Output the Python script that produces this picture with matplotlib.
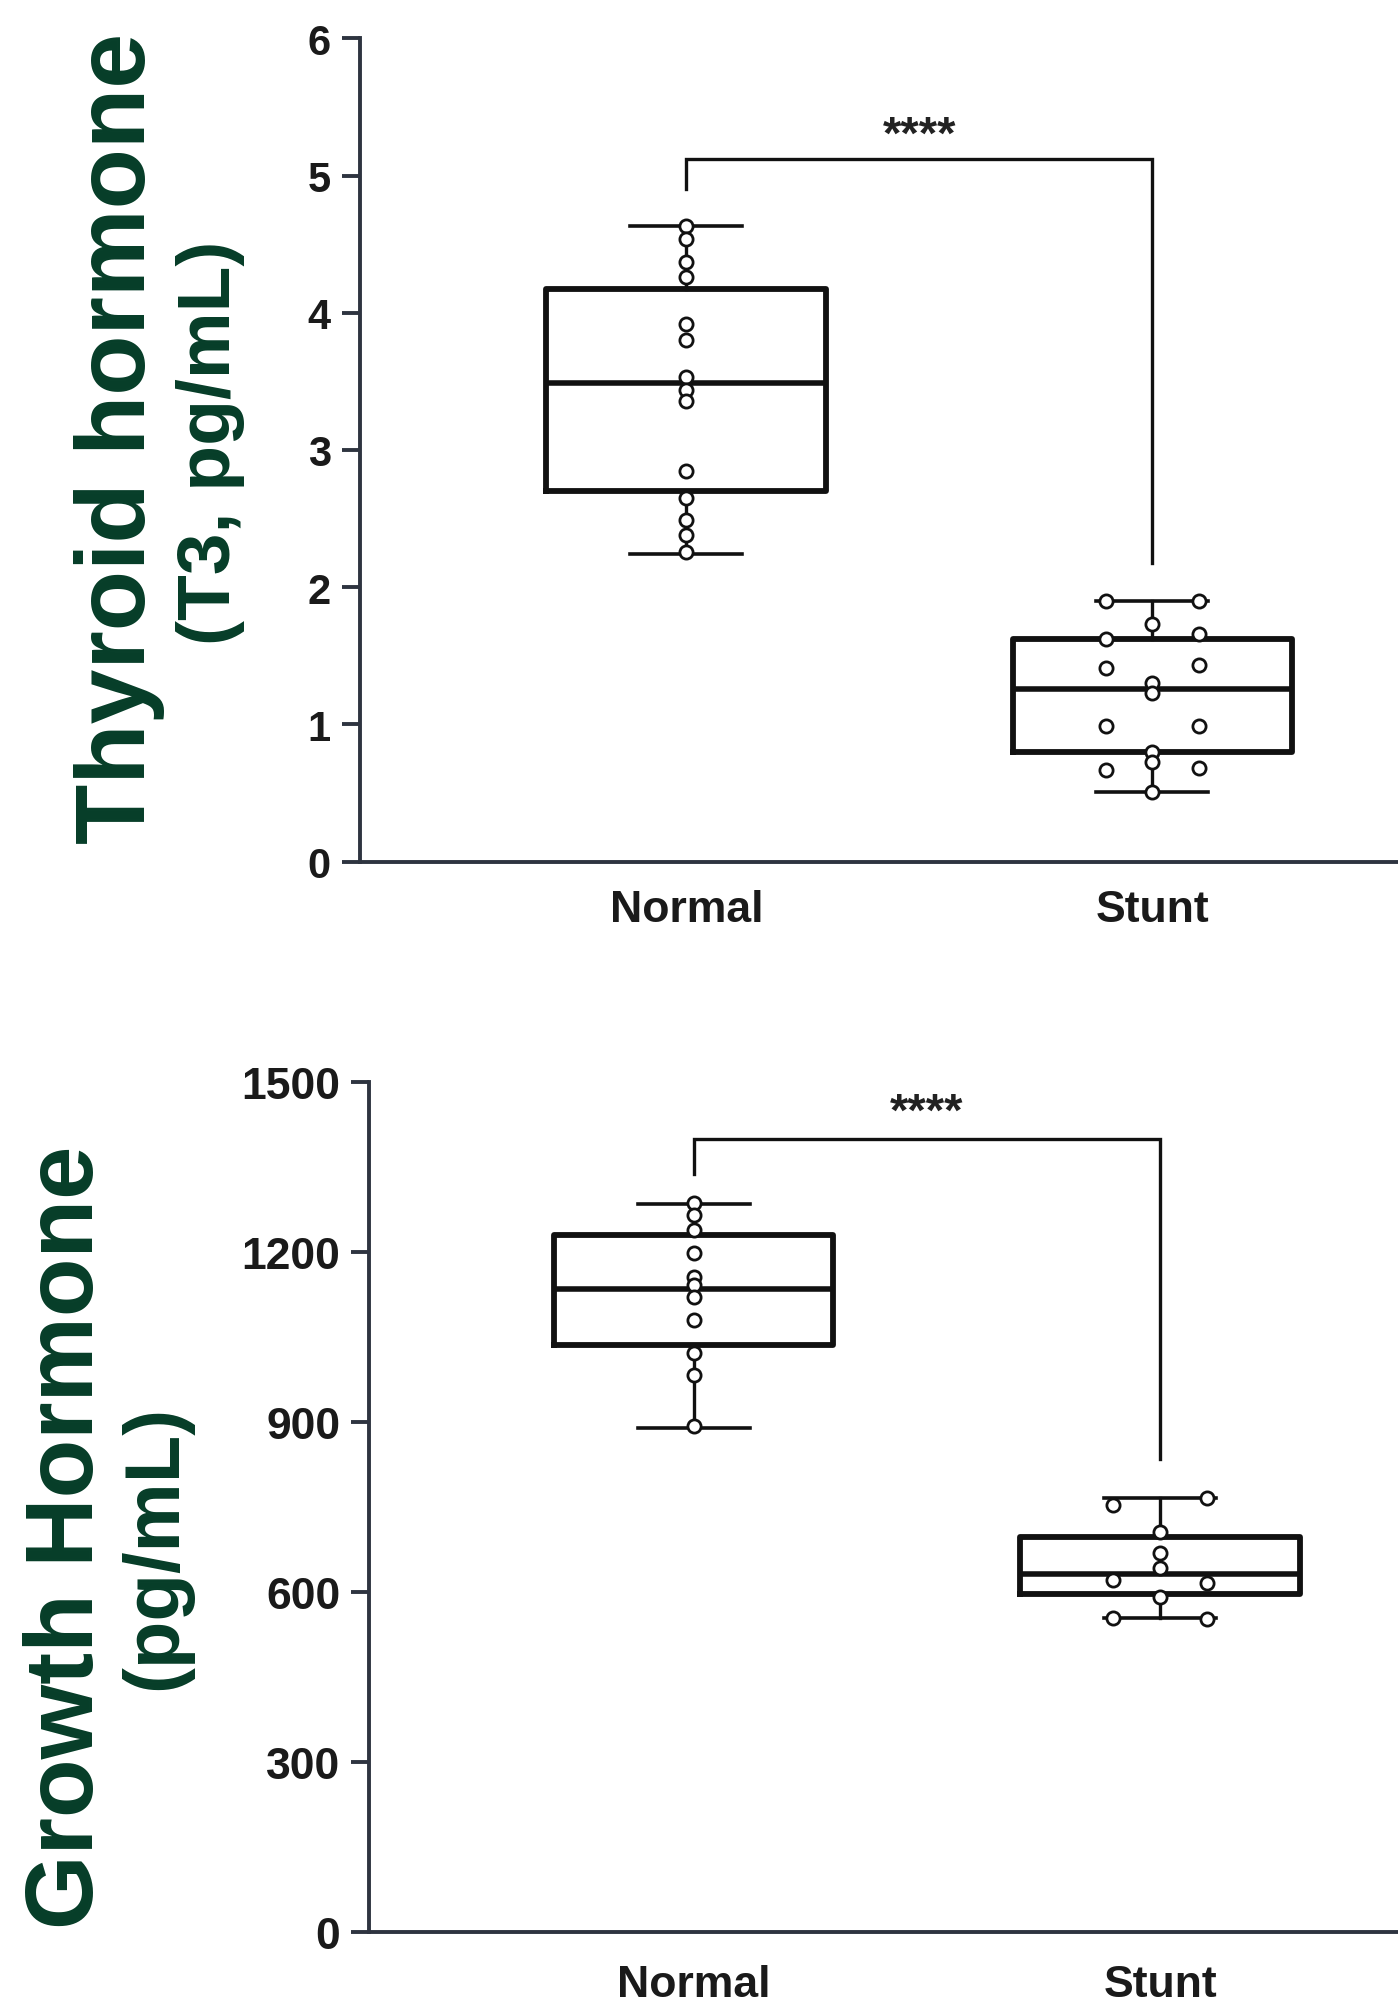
import numpy as np
import matplotlib
matplotlib.use('Agg')
import matplotlib.pyplot as plt
from matplotlib import font_manager as fm

# --- data ---
groups = ['Normal', 'Stunt']

# T3 (pg/mL)
t3_normal = [4.63, 4.54, 4.37, 4.26, 3.92, 3.80, 3.53, 3.44, 3.36,
             2.85, 2.65, 2.49, 2.38, 2.26]
t3_stunt = [1.90, 1.90, 1.73, 1.62, 1.66, 1.41, 1.43, 1.30, 1.23,
            0.99, 0.99, 0.80, 0.73, 0.67, 0.68, 0.51]
# column each dot sits in (-1 left, 0 centre, 1 right)
t3_stunt_col = [-1, 1, 0, -1, 1, -1, 1, 0, 0, -1, 1, 0, 0, -1, 1, 0]
# whislo, q1, median, q3, whishi
t3_normal_box = [2.24, 2.70, 3.49, 4.17, 4.63]
t3_stunt_box = [0.51, 0.80, 1.26, 1.62, 1.90]

# Growth hormone (pg/mL)
gh_normal = [1286, 1265, 1239, 1198, 1156, 1142, 1121, 1080, 1021, 983, 892]
gh_stunt = [753, 765, 706, 669, 642, 621, 615, 591, 553, 552]
gh_stunt_col = [-1, 1, 0, 0, 0, -1, 1, 0, -1, 1]
gh_normal_box = [890, 1035, 1135, 1230, 1284]
gh_stunt_box = [554, 596, 632, 696, 766]

# significance brackets: bar height, left leg end, right leg end, star baseline
t3_sig = [5.12, 4.90, 2.18, 5.20]
gh_sig = [1400, 1338, 835, 1424]
sig_label = '****'

avail = {f.name for f in fm.fontManager.ttflist}
sans = next((n for n in ['Liberation Sans', 'Arial', 'DejaVu Sans'] if n in avail), 'DejaVu Sans')
plt.rcParams['font.family'] = [sans, 'DejaVu Sans']

W, H = 1398, 2008
fig = plt.figure(figsize=(W / 100, H / 100), dpi=100)

green = '#063d28'
axcol = '#2e3440'
ink = '#111111'


def stats(box, label):
    lo, q1, med, q3, hi = box
    return dict(label=label, whislo=lo, q1=q1, med=med, q3=q3, whishi=hi, fliers=[])


def panel(rect, xlim, normal, stunt, stunt_col, nbox, sbox, sig, ylim, yticks,
          tick_fs, xpad):
    ax = fig.add_axes(rect)
    ax.bxp([stats(nbox, groups[0]), stats(sbox, groups[1])], positions=[1, 2],
           widths=0.6, capwidths=0.24, showfliers=False,
           boxprops=dict(color=ink, lw=4.2, solid_joinstyle='round'),
           medianprops=dict(color=ink, lw=4.0),
           whiskerprops=dict(color=ink, lw=2.4),
           capprops=dict(color=ink, lw=2.6))
    pts = dict(ls='none', marker='o', ms=9.5, mfc='white', mec=ink,
               mew=2.0, zorder=5, clip_on=False)
    ax.plot(np.ones(len(normal)), normal, **pts)
    ax.plot(2 + 0.1 * np.array(stunt_col), stunt, **pts)

    # significance bracket
    top, lleg, rleg, sy = sig
    ax.plot([1, 1, 2, 2], [lleg, top, top, rleg], color=ink, lw=2.4,
            solid_joinstyle='miter', clip_on=False)
    ax.text(1.5, sy, sig_label, ha='center', va='baseline', fontsize=34,
            fontweight='bold', color='#222222', clip_on=False)

    ax.set_xlim(*xlim)
    ax.set_ylim(*ylim)
    ax.set_yticks(yticks)
    ax.set_yticklabels([str(t) for t in yticks], fontsize=tick_fs,
                       fontweight='bold', color='#1a1a1a')
    ax.set_xticks([1, 2])
    ax.set_xticklabels(groups, fontsize=32, fontweight='bold', color='#1a1a1a')
    ax.tick_params(axis='y', direction='out', length=13, width=2.8,
                   color=axcol, pad=8)
    ax.tick_params(axis='x', length=0, pad=xpad)
    for s in ['top', 'right']:
        ax.spines[s].set_visible(False)
    for s in ['left', 'bottom']:
        ax.spines[s].set_linewidth(2.8)
        ax.spines[s].set_color(axcol)
    return ax


# top panel: thyroid hormone
panel([360 / W, 1 - 862.7 / H, 1 - 360 / W, 823.4 / H], (0.30, 2.527),
      t3_normal, t3_stunt, t3_stunt_col, t3_normal_box, t3_stunt_box, t3_sig,
      (0, 6), list(range(0, 7)), 30, 20)

# bottom panel: growth hormone
panel([369.3 / W, 1 - 1932.7 / H, 1 - 369.3 / W, 849.7 / H], (0.305, 2.51),
      gh_normal, gh_stunt, gh_stunt_col, gh_normal_box, gh_stunt_box, gh_sig,
      (0, 1500), list(range(0, 1501, 300)), 32, 23)

# green axis titles
title_kw = dict(rotation=90, rotation_mode='anchor', ha='center', va='baseline',
                color=green, fontweight='bold')
fig.text(145 / W, 1 - 438.7 / H, 'Thyroid hormone', fontsize=71, **title_kw)
fig.text(230 / W, 1 - 443 / H, '(T3, pg/mL)', fontsize=54, **title_kw)
fig.text(93.3 / W, 1 - 1537 / H, 'Growth Hormone', fontsize=69, **title_kw)
fig.text(176 / W, 1 - 1547 / H, '(pg/mL)', fontsize=56, **title_kw)

fig.savefig('out.png', dpi=100)
